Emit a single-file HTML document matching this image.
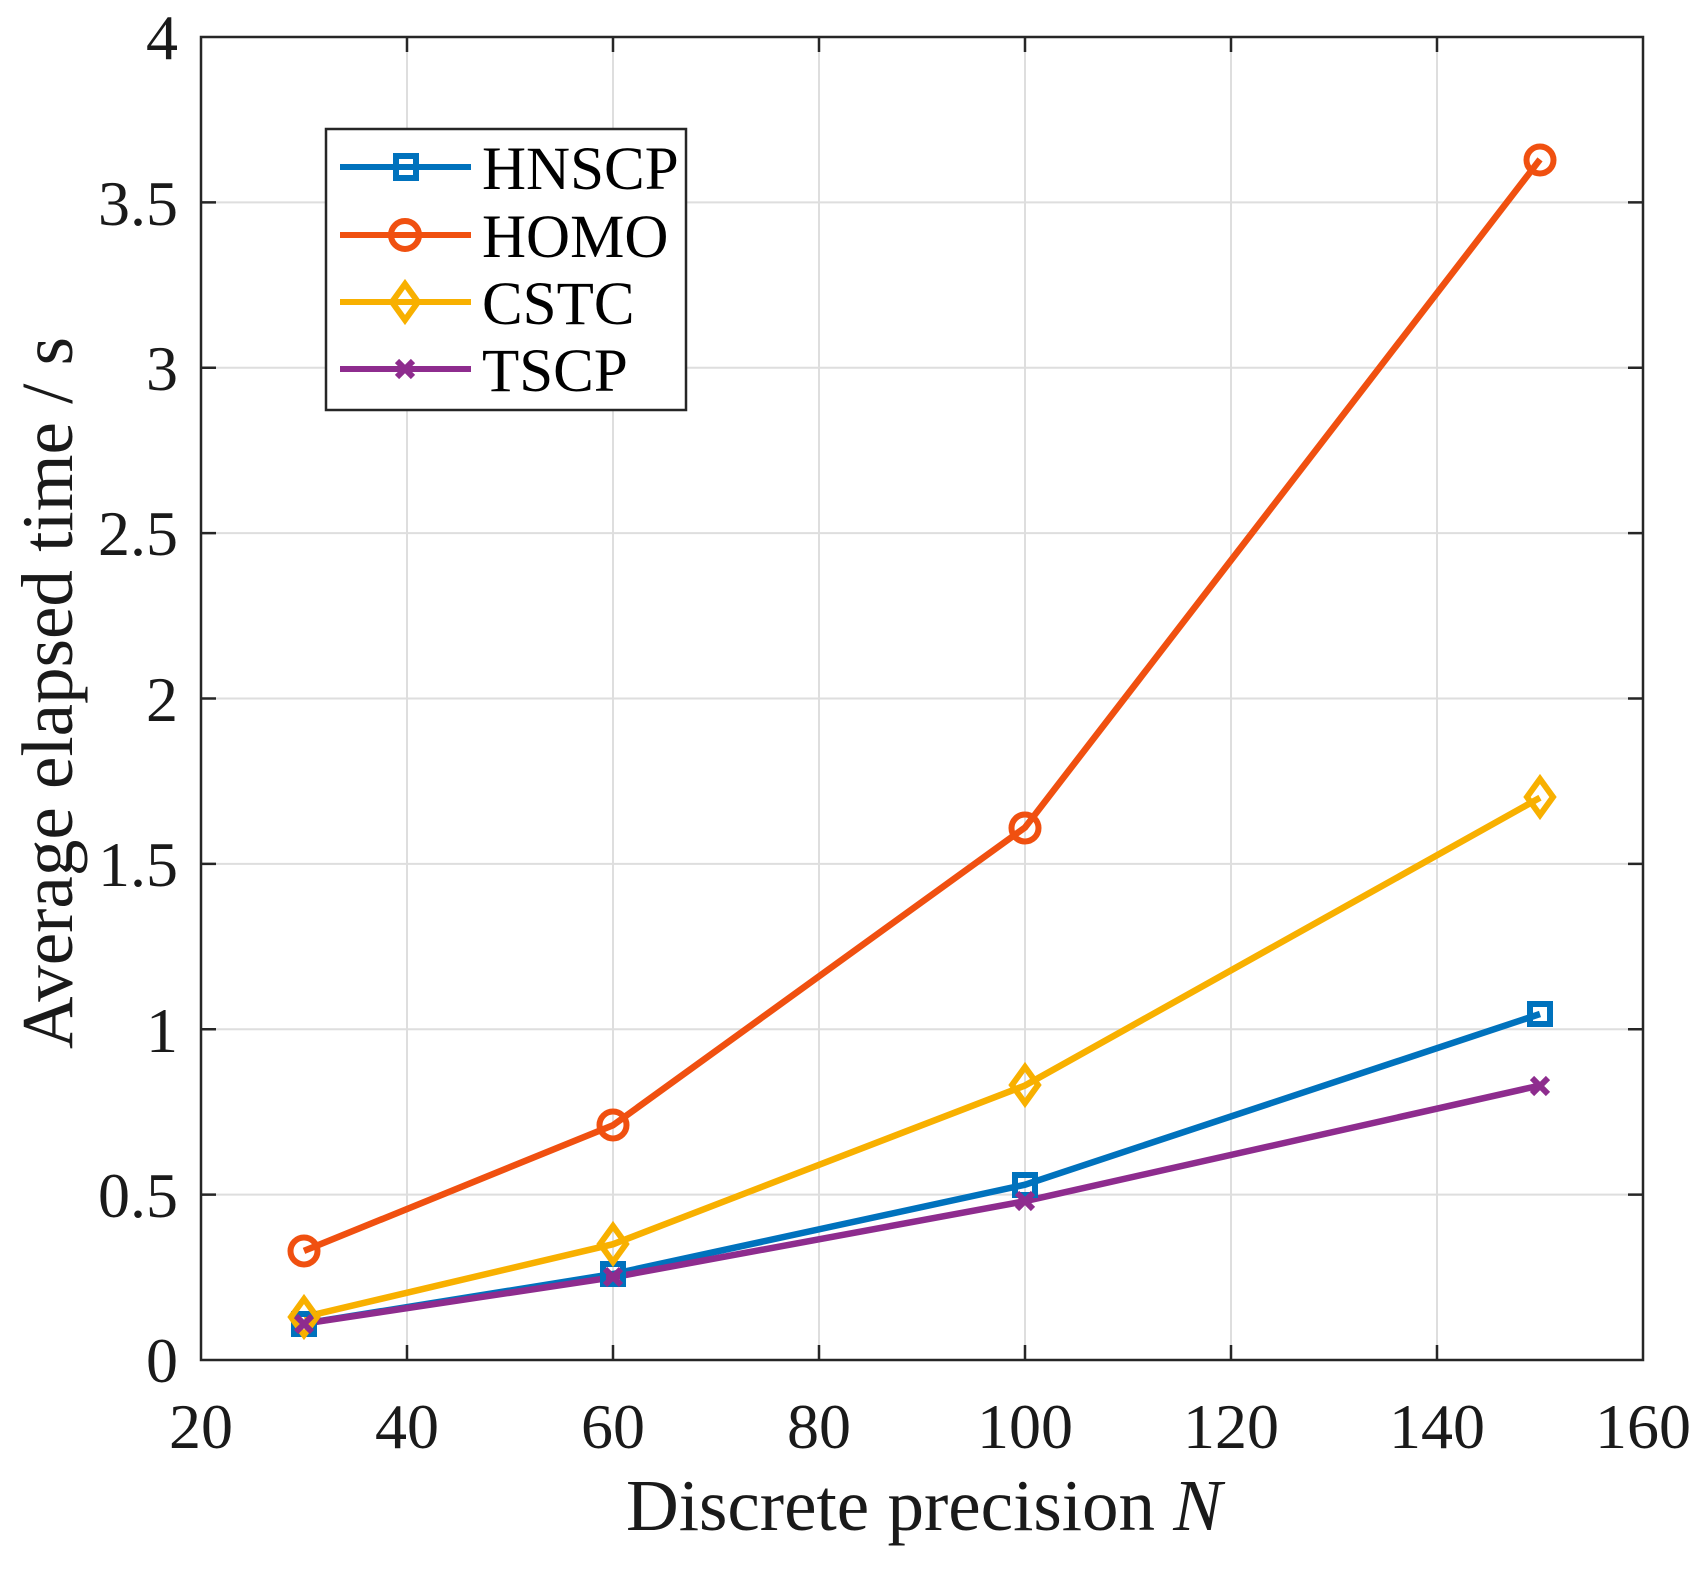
<!DOCTYPE html>
<html><head><meta charset="utf-8"><style>body{margin:0;background:#fff}</style></head><body>
<svg width="1704" height="1564" xmlns="http://www.w3.org/2000/svg" font-family="Liberation Serif, serif" fill="#1a1a1a">
<rect width="1704" height="1564" fill="#fff"/>
<g stroke="#dedede" stroke-width="2">
<line x1="407" y1="37" x2="407" y2="1360"/><line x1="613" y1="37" x2="613" y2="1360"/><line x1="819" y1="37" x2="819" y2="1360"/><line x1="1025" y1="37" x2="1025" y2="1360"/><line x1="1231" y1="37" x2="1231" y2="1360"/><line x1="1437" y1="37" x2="1437" y2="1360"/>
<line x1="201" y1="1194.6" x2="1643" y2="1194.6"/><line x1="201" y1="1029.3" x2="1643" y2="1029.3"/><line x1="201" y1="863.9" x2="1643" y2="863.9"/><line x1="201" y1="698.5" x2="1643" y2="698.5"/><line x1="201" y1="533.1" x2="1643" y2="533.1"/><line x1="201" y1="367.8" x2="1643" y2="367.8"/><line x1="201" y1="202.4" x2="1643" y2="202.4"/>
</g>
<g stroke="#262626" stroke-width="2.5">
<path d="M407 1360v-15M613 1360v-15M819 1360v-15M1025 1360v-15M1231 1360v-15M1437 1360v-15M407 37v15M613 37v15M819 37v15M1025 37v15M1231 37v15M1437 37v15"/>
<path d="M201 1194.6h15M201 1029.3h15M201 863.9h15M201 698.5h15M201 533.1h15M201 367.8h15M201 202.4h15M1643 1194.6h-15M1643 1029.3h-15M1643 863.9h-15M1643 698.5h-15M1643 533.1h-15M1643 367.8h-15M1643 202.4h-15"/>
<rect x="201" y="37" width="1442" height="1323" fill="none"/>
</g>
<g fill="none" stroke-width="6.5">
<polyline stroke="#0072BD" points="304,1323.6 613,1274 1025,1184.7 1540,1014"/>
<polyline stroke="#F05010" points="304,1250.9 613,1125.2 1025,827.5 1540,159.4"/>
<polyline stroke="#F8B000" points="304,1317 613,1244.2 1025,1085.5 1540,797.7"/>
<polyline stroke="#8E2C8E" points="304,1323.6 613,1277.3 1025,1201.2 1540,1085.5"/>
</g>
<g fill="none" stroke-width="6">
<g stroke="#0072BD"><rect x="294" y="1314" width="20" height="20"/><rect x="603" y="1264" width="20" height="20"/><rect x="1015" y="1175" width="20" height="20"/><rect x="1530" y="1004" width="20" height="20"/></g>
<g stroke="#F05010"><circle cx="304" cy="1251" r="13.5"/><circle cx="613" cy="1125" r="13.5"/><circle cx="1025" cy="828" r="13.5"/><circle cx="1540" cy="160" r="13.5"/></g>
<g stroke="#F8B000"><path d="M304 1299l13 18-13 18-13-18z"/><path d="M613 1226l13 18-13 18-13-18z"/><path d="M1025 1067l13 18-13 18-13-18z"/><path d="M1540 779l13 18-13 18-13-18z"/></g>
<g stroke="#8E2C8E"><path d="M296 1316l16 16M312 1316l-16 16M605 1269l16 16M621 1269l-16 16M1017 1193l16 16M1033 1193l-16 16M1532 1078l16 16M1548 1078l-16 16"/></g>
</g>
<rect x="326" y="129" width="360" height="281" fill="#fff" stroke="#262626" stroke-width="2.5"/>
<g stroke-width="6" fill="none">
<line x1="340" y1="167" x2="471" y2="167" stroke="#0072BD"/><rect x="396" y="156" width="20" height="22" stroke="#0072BD"/>
<line x1="340" y1="235" x2="471" y2="235" stroke="#F05010"/><circle cx="405" cy="235" r="14" stroke="#F05010"/>
<line x1="340" y1="302" x2="471" y2="302" stroke="#F8B000"/><path d="M405 284l13 18-13 18-13-18z" stroke="#F8B000"/>
<line x1="340" y1="369" x2="471" y2="369" stroke="#8E2C8E"/><path d="M397 361l16 16M413 361l-16 16" stroke="#8E2C8E"/>
</g>
<g font-size="61" fill="#000">
<text x="482" y="189">HNSCP</text><text x="482" y="257">HOMO</text><text x="482" y="324">CSTC</text><text x="482" y="391">TSCP</text>
</g>
<g font-size="64" text-anchor="middle">
<text x="201" y="1448">20</text><text x="407" y="1448">40</text><text x="613" y="1448">60</text><text x="819" y="1448">80</text><text x="1025" y="1448">100</text><text x="1231" y="1448">120</text><text x="1437" y="1448">140</text><text x="1643" y="1448">160</text>
</g>
<g font-size="64" text-anchor="end">
<text x="178" y="1382">0</text><text x="178" y="1217">0.5</text><text x="178" y="1052">1</text><text x="178" y="886">1.5</text><text x="178" y="721">2</text><text x="178" y="555">2.5</text><text x="178" y="390">3</text><text x="178" y="225">3.5</text><text x="178" y="59">4</text>
</g>
<text x="924" y="1530" font-size="73" text-anchor="middle">Discrete precision <tspan font-style="italic">N</tspan></text>
<text transform="translate(72,693) rotate(-90)" font-size="73" text-anchor="middle">Average elapsed time / s</text>
</svg>
</body></html>
